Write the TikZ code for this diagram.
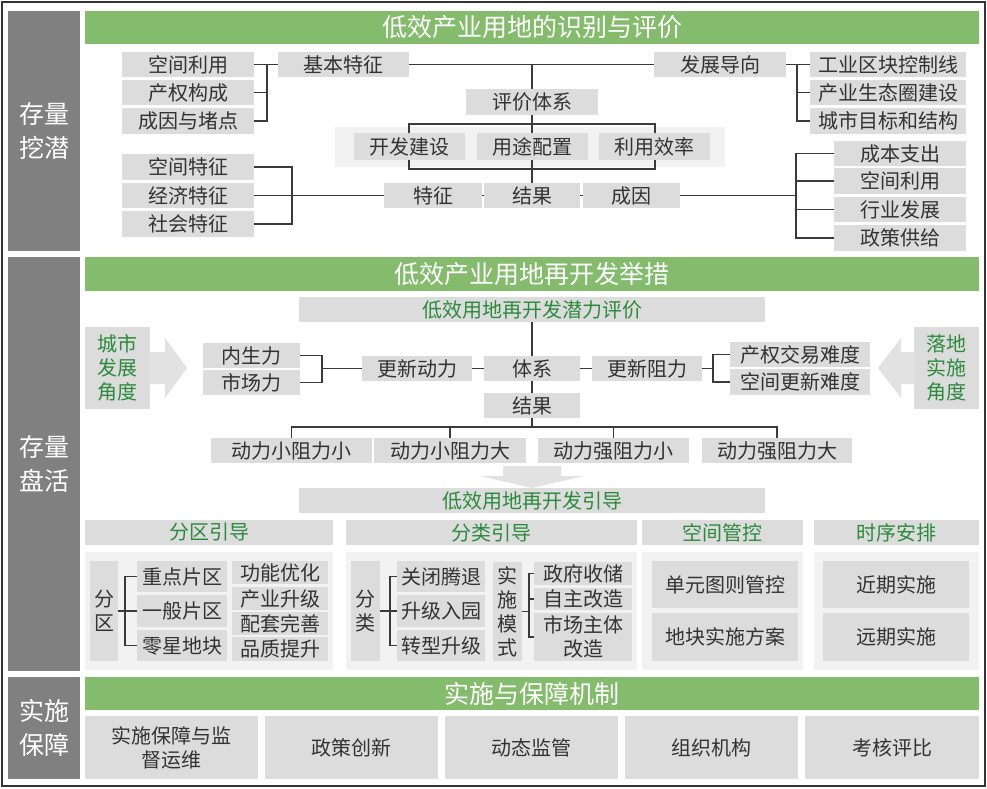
\documentclass[tikz,border=0pt]{standalone}
\usepackage{fontspec}
\setmainfont{Noto Sans CJK SC}
\definecolor{boxg}{HTML}{DCDCDC}
\definecolor{pnlg}{HTML}{F2F2F2}
\definecolor{secg}{HTML}{808080}
\definecolor{hdg}{HTML}{84BB6C}
\definecolor{gtxt}{HTML}{2B8A3C}
\definecolor{txt}{HTML}{333333}
\definecolor{lncol}{HTML}{3A3A3A}
\definecolor{arwg}{HTML}{E2E2E2}
\pgfdeclarelayer{panels}
\pgfdeclarelayer{lines}
\pgfsetlayers{panels,lines,main}
\newcommand\Bx[7]{\node[#6, minimum width={#4-#2}, minimum height={#5-#3}] (#1) at ({(#2+#4)/2},{(#3+#5)/2}) {#7};}
\tikzset{
 ln/.style={draw=lncol, line width=1.1pt},
 bx/.style={fill=boxg, inner sep=0pt, text=txt, font=\fontsize{20}{24}\selectfont, align=center},
 gt/.style={bx, text=gtxt},
 pnl/.style={fill=pnlg, inner sep=0pt},
 sec/.style={fill=secg, inner sep=0pt, text=white, font=\fontsize{25}{34}\selectfont, align=center},
 hd/.style={fill=hdg, inner sep=0pt, text=white, font=\fontsize{25}{30}\selectfont},
 arw/.style={fill=arwg},
}
\begin{document}
\begin{tikzpicture}[x=1pt,y=-1pt]
\useasboundingbox (0,0) rectangle (987,788);
\begin{pgfonlayer}{panels}
\fill[white] (0,0) rectangle (987,788);
\Bx{p1}{335}{127}{725}{167}{pnl}{}
\Bx{P1}{85}{552}{333}{670}{pnl}{}
\Bx{P2}{346}{552}{637}{670}{pnl}{}
\Bx{P3}{642}{552}{803}{670}{pnl}{}
\Bx{P4}{814}{552}{979}{670}{pnl}{}
\end{pgfonlayer}
\draw[line width=1.5pt, draw=txt] (2,2) rectangle (985,786);

% ---------- Section 1
\Bx{s1}{8}{11}{80}{251}{sec}{存量\\挖潜}
\Bx{h1}{85}{11}{979}{44}{hd}{低效产业用地的识别与评价}
\Bx{a1}{122}{52}{254}{77}{bx}{空间利用}
\Bx{a2}{122}{80}{254}{105}{bx}{产权构成}
\Bx{a3}{122}{108}{254}{134}{bx}{成因与堵点}
\Bx{jb}{278}{52}{409}{77}{bx}{基本特征}
\Bx{fz}{654}{52}{786}{77}{bx}{发展导向}
\Bx{r1}{810}{52}{966}{77}{bx}{工业区块控制线}
\Bx{r2}{810}{80}{966}{105}{bx}{产业生态圈建设}
\Bx{r3}{810}{108}{966}{134}{bx}{城市目标和结构}
\Bx{pj}{466}{89}{598}{115}{bx}{评价体系}
\Bx{k1}{354}{133}{465}{160}{bx}{开发建设}
\Bx{k2}{477}{133}{588}{160}{bx}{用途配置}
\Bx{k3}{599}{133}{710}{160}{bx}{利用效率}
\Bx{t1}{384}{183}{482}{208}{bx}{特征}
\Bx{t2}{484}{183}{580}{208}{bx}{结果}
\Bx{t3}{583}{183}{680}{208}{bx}{成因}
\Bx{b1}{122}{154}{254}{180}{bx}{空间特征}
\Bx{b2}{122}{183}{254}{208}{bx}{经济特征}
\Bx{b3}{122}{211}{254}{237}{bx}{社会特征}
\Bx{c1}{834}{141}{966}{166}{bx}{成本支出}
\Bx{c2}{834}{168}{966}{194}{bx}{空间利用}
\Bx{c3}{834}{197}{966}{222}{bx}{行业发展}
\Bx{c4}{834}{225}{966}{251}{bx}{政策供给}

\begin{pgfonlayer}{lines}
\coordinate (j1) at (267,64.5);
\draw[ln] (a1.east) -- (j1) |- (a3.east);
\draw[ln] (a2.east) -- (a2.east -| j1);
\draw[ln] (j1) -- (jb.west);
\draw[ln] (jb.east) -- (fz.west);
\draw[ln] (pj.north |- jb.east) -- (pj.north);
\draw[ln] (pj.north) -- (t2.north);
\coordinate (q1) at (409,124);
\coordinate (q2) at (655,169);
\draw[ln] (q1) rectangle (q2);
\coordinate (j3) at (292,167);
\draw[ln] (b1.east) -| (j3) |- (b3.east);
\draw[ln] (b2.east) -- (t1.west);
\draw[ln] (t1.east) -- (t2.west);
\draw[ln] (t2.east) -- (t3.west);
\coordinate (j4) at (796,153.5);
\draw[ln] (c1.west) -- (j4) |- (c4.west);
\draw[ln] (c2.west) -- (c2.west -| j4);
\draw[ln] (c3.west) -- (c3.west -| j4);
\draw[ln] (t3.east) -- (t3.east -| j4);
\coordinate (j5) at (797,64.5);
\draw[ln] (fz.east) -- (r1.west);
\draw[ln] (j5) |- (r3.west);
\draw[ln] (r2.west) -- (r2.west -| j5);
\end{pgfonlayer}

% ---------- Section 2
\Bx{s2}{8}{257}{80}{671}{sec}{存量\\盘活}
\Bx{h2}{85}{257}{979}{291}{hd}{低效产业用地再开发举措}
\Bx{pe}{299}{297}{765}{322}{gt}{低效用地再开发潜力评价}
\Bx{lL}{85}{327}{150}{409}{gt}{城市\\发展\\角度}
\Bx{lR}{914}{327}{979}{409}{gt}{落地\\实施\\角度}
\fill[arw] (150,352) -- (165,352) -- (165,338) -- (187,368) -- (165,398) -- (165,384) -- (150,384) -- cycle;
\fill[arw] (914,352) -- (901,352) -- (901,338) -- (878,368) -- (901,398) -- (901,384) -- (914,384) -- cycle;
\Bx{n1}{203}{343}{300}{368}{bx}{内生力}
\Bx{n2}{203}{370}{300}{395}{bx}{市场力}
\Bx{d1}{362}{356}{472}{381}{bx}{更新动力}
\Bx{ts}{484}{356}{580}{381}{bx}{体系}
\Bx{d2}{592}{356}{702}{381}{bx}{更新阻力}
\Bx{e1}{730}{342}{870}{367}{bx}{产权交易难度}
\Bx{e2}{730}{369}{870}{395}{bx}{空间更新难度}
\Bx{jg}{484}{393}{580}{418}{bx}{结果}
\Bx{m1}{211}{438}{372}{463}{bx}{动力小阻力小}
\Bx{m2}{374}{438}{526}{463}{bx}{动力小阻力大}
\Bx{m3}{538}{438}{689}{463}{bx}{动力强阻力小}
\Bx{m4}{702}{438}{852}{463}{bx}{动力强阻力大}
\fill[arw] (503,466) -- (561,466) -- (561,476) -- (584,476) -- (532,488) -- (480,476) -- (503,476) -- cycle;
\Bx{gd}{299}{488}{765}{513}{gt}{低效用地再开发引导}

\begin{pgfonlayer}{lines}
\coordinate (j6) at (322,355.5);
\draw[ln] (n1.east) -- (j6) |- (n2.east);
\draw[ln] (d1.west) -- (d1.west -| j6);
\draw[ln] (d1.east) -- (ts.west);
\draw[ln] (ts.east) -- (d2.west);
\coordinate (j8) at (713,354.5);
\draw[ln] (e1.west) -- (j8) |- (e2.west);
\draw[ln] (d2.east) -- (d2.east -| j8);
\draw[ln] (pe.south) -- (ts.north);
\draw[ln] (ts.south) -- (jg.north);
\coordinate (hb) at (0,427);
\draw[ln] (jg.south) -- (jg.south |- hb);
\draw[ln] (m1.north) -- (m1.north |- hb) -- (m4.north |- hb) -- (m4.north);
\draw[ln] (m2.north) -- (m2.north |- hb);
\draw[ln] (m3.north) -- (m3.north |- hb);
\end{pgfonlayer}

% lower blocks
\Bx{g1}{85}{520}{333}{545}{gt}{分区引导}
\Bx{g2}{346}{520}{637}{545}{gt}{分类引导}
\Bx{g3}{642}{520}{803}{545}{gt}{空间管控}
\Bx{g4}{814}{520}{979}{545}{gt}{时序安排}

\Bx{fq}{90}{561}{118}{661}{bx}{分\\区}
\Bx{q1}{137}{561}{227}{592}{bx}{重点片区}
\Bx{q2}{137}{595}{227}{627}{bx}{一般片区}
\Bx{q3}{137}{630}{227}{661}{bx}{零星地块}
\Bx{w1}{232}{561}{328}{584}{bx}{功能优化}
\Bx{w2}{232}{587}{328}{610}{bx}{产业升级}
\Bx{w3}{232}{612}{328}{635}{bx}{配套完善}
\Bx{w4}{232}{637}{328}{661}{bx}{品质提升}

\Bx{fl}{351}{561}{380}{661}{bx}{分\\类}
\Bx{l1}{397}{561}{485}{592}{bx}{关闭腾退}
\Bx{l2}{397}{595}{485}{627}{bx}{升级入园}
\Bx{l3}{397}{630}{485}{661}{bx}{转型升级}

\Bx{ms}{493}{562}{522}{661}{bx}{实\\施\\模\\式}
\Bx{o1}{534}{562}{632}{585}{bx}{政府收储}
\Bx{o2}{534}{588}{632}{610}{bx}{自主改造}
\Bx{o3}{534}{613}{632}{661}{bx}{市场主体\\改造}

\begin{pgfonlayer}{lines}
\coordinate (k1) at (125,576.5);
\draw[ln] (q1.west) -- (k1) |- (q3.west);
\draw[ln] (fq.east) -- (q2.west);
\coordinate (k2) at (390,576.5);
\draw[ln] (l1.west) -- (k2) |- (l3.west);
\draw[ln] (fl.east) -- (l2.west);
\coordinate (k3) at (529,573.5);
\draw[ln] (o1.west) -- (k3) |- (o3.west);
\draw[ln] (o2.west) -- (o2.west -| k3);
\draw[ln] (ms.east) -- (ms.east -| k3);
\end{pgfonlayer}

\Bx{u1}{652}{561}{798}{608}{bx}{单元图则管控}
\Bx{u2}{652}{613}{798}{661}{bx}{地块实施方案}
\Bx{v1}{823}{561}{969}{608}{bx}{近期实施}
\Bx{v2}{823}{613}{969}{661}{bx}{远期实施}

% ---------- Section 3
\Bx{s3}{8}{677}{80}{779}{sec}{实施\\保障}
\Bx{h3}{85}{677}{979}{710}{hd}{实施与保障机制}
\Bx{z1}{85}{716}{258}{779}{bx}{实施保障与监\\督运维}
\Bx{z2}{265}{716}{438}{779}{bx}{政策创新}
\Bx{z3}{445}{716}{618}{779}{bx}{动态监管}
\Bx{z4}{625}{716}{798}{779}{bx}{组织机构}
\Bx{z5}{805}{716}{979}{779}{bx}{考核评比}
\end{tikzpicture}
\end{document}
